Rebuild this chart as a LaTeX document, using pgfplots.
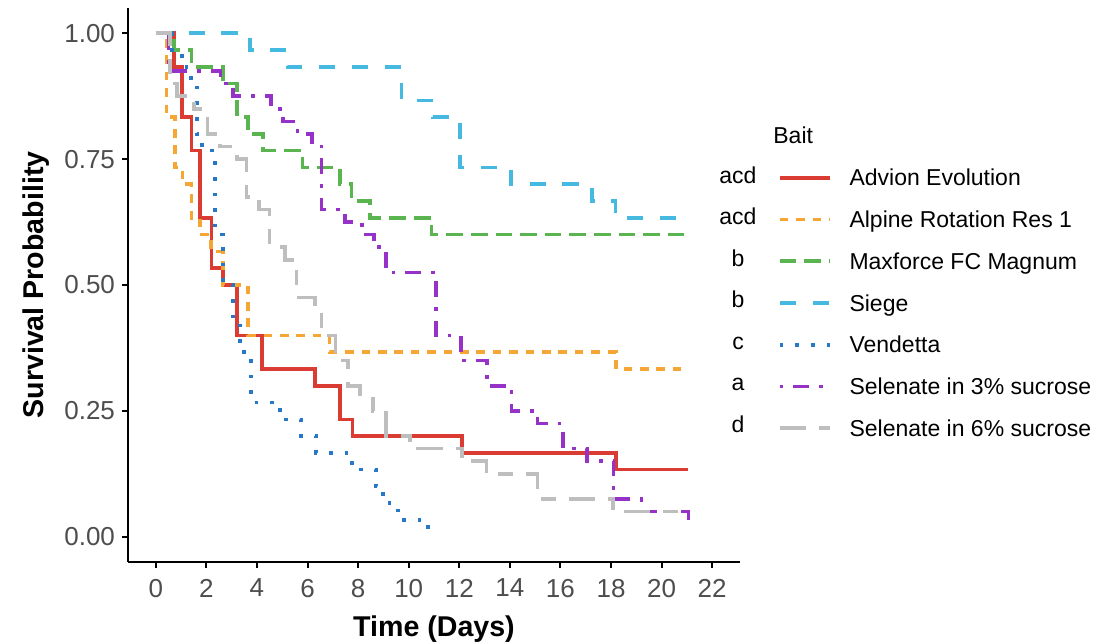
\documentclass[border=0pt]{standalone}
\usepackage{pgfplots}
\pgfplotsset{compat=1.18}
\usepackage{fontspec}
\setmainfont{Liberation Sans}
\definecolor{cRed}{RGB}{218,60,52}
\definecolor{cOrange}{RGB}{245,166,52}
\definecolor{cGreen}{RGB}{90,180,80}
\definecolor{cCyan}{RGB}{70,185,225}
\definecolor{cBlue}{RGB}{40,120,200}
\definecolor{cPurple}{RGB}{150,50,200}
\definecolor{cGray}{RGB}{190,190,190}
\definecolor{tickgray}{RGB}{77,77,77}
\begin{document}
\begin{tikzpicture}
\useasboundingbox (-64pt,-40.5pt) rectangle (483pt,281pt);
\begin{axis}[
  at={(0pt,0pt)}, anchor=south west,
  scale only axis, width=306pt, height=277pt,
  xmin=-1.1, xmax=23.1, ymin=-0.05, ymax=1.05,
  axis x line*=bottom, axis y line*=left,
  axis line style={black, line width=1pt, -},
  xtick={0,2,...,22},
  ytick={0,0.25,0.5,0.75,1},
  yticklabels={0.00,0.25,0.50,0.75,1.00},
  tick align=outside, major tick length=3pt,
  tick style={black, line width=1pt},
  /pgf/number format/assume math mode=true,
  tick label style={font=\fontsize{13}{15}\selectfont, text=tickgray},
  xticklabel style={yshift=-2pt},
  xlabel={Time (Days)}, ylabel={Survival Probability},
  label style={font=\fontsize{14.3}{17}\selectfont\bfseries},
  xlabel style={at={(axis description cs:0.5,-0.1336)}, anchor=base},
  ylabel style={at={(axis description cs:-0.1373,0.5)}, anchor=base, rotate=0},
  every axis plot/.append style={line width=1.8pt, line cap=butt, line join=miter, const plot},
  legend style={at={(axis description cs:1.062,0.7136)}, anchor=north west,
    draw=none, fill=none, font=\fontsize{11.5}{13.8}\selectfont,
    row sep=9.7pt, column sep=9pt, inner sep=0pt, outer sep=0pt,
    nodes={inner sep=0pt, outer sep=0pt}},
  legend cell align=left,
  legend image code/.code={\draw[#1] (0pt,0pt) -- (25pt,0pt);},
]
% Advion Evolution
\addplot[cRed] coordinates {(0,1) (0.73,0.9333) (1.03,0.8333) (1.41,0.7667) (1.74,0.6333) (2.2,0.5333) (2.65,0.5) (3.2,0.4) (4.2,0.3333) (6.3,0.3) (7.28,0.2333) (7.77,0.2) (12.1,0.1667) (18.2,0.1333) (21.05,0.1333)};
\addlegendentry{\strut Advion Evolution}
% Alpine Rotation Res 1
\addplot[cOrange, dash pattern=on 4.3pt off 3.9pt] coordinates {(0,1) (0.42,0.8333) (0.75,0.7333) (1.05,0.7) (1.41,0.6333) (1.74,0.6) (2.18,0.5667) (2.65,0.5) (3.64,0.4) (6.86,0.3667) (18.2,0.3333) (21.05,0.3333)};
\addlegendentry{\strut Alpine Rotation Res 1}
% Maxforce FC Magnum
\addplot[cGreen, dash pattern=on 8.3pt off 4pt] coordinates {(0,1) (0.73,0.9667) (1.41,0.9333) (2.66,0.9) (3.2,0.8333) (3.64,0.8) (4.25,0.7667) (5.8,0.7333) (7.28,0.7) (7.74,0.6667) (8.47,0.6333) (10.9,0.6) (21.05,0.6)};
\addlegendentry{\strut Maxforce FC Magnum}
% Siege
\addplot[cCyan, dash pattern=on 8.1pt off 8.3pt] coordinates {(0,1) (3.72,0.9667) (5.2,0.9333) (9.72,0.8667) (10.97,0.8333) (12.03,0.7333) (14.05,0.7) (17.24,0.6667) (18.17,0.6333) (21.05,0.6333)};
\addlegendentry{\strut Siege}
% Vendetta
\addplot[cBlue, dash pattern=on 1.8pt off 6pt] coordinates {(0,1) (0.63,0.9667) (1.03,0.9333) (1.38,0.9) (1.62,0.8) (1.82,0.7667) (2.33,0.6) (2.65,0.5) (3.05,0.4333) (3.32,0.3667) (3.76,0.2667) (4.9,0.2333) (5.75,0.2) (6.34,0.1667) (7.76,0.1333) (8.7,0.1) (8.98,0.0667) (9.58,0.0333) (10.76,0)};
\addlegendentry{\strut Vendetta}
% Selenate in 3% sucrose
\addplot[cPurple, dash pattern=on 1.8pt off 5pt on 8pt off 5pt] coordinates {(0,1) (0.5,0.925) (2.55,0.9) (3.05,0.875) (4.56,0.85) (5.04,0.825) (5.6,0.8) (6.17,0.775) (6.55,0.65) (7.48,0.625) (8.15,0.6) (8.63,0.575) (9.1,0.525) (11.08,0.4) (12.06,0.35) (13.1,0.3) (14.07,0.25) (15.1,0.225) (16.1,0.175) (17.05,0.15) (18.1,0.075) (19.2,0.05) (21.07,0.025)};
\addlegendentry{\strut Selenate in 3\% sucrose}
% Selenate in 6% sucrose
\addplot[cGray, dash pattern=on 13.3pt off 6.5pt on 7.5pt off 6.5pt] coordinates {(0,1) (0.55,0.9) (0.83,0.875) (1.5,0.85) (2.05,0.8) (2.53,0.775) (3.2,0.75) (3.58,0.675) (4.09,0.65) (4.5,0.575) (5.1,0.55) (5.57,0.475) (6.3,0.45) (6.55,0.4) (7.1,0.35) (7.6,0.3) (8.07,0.275) (8.58,0.25) (9.1,0.2) (10.05,0.175) (12.1,0.15) (13.07,0.125) (15.1,0.075) (18.07,0.05) (21.05,0.05)};
\addlegendentry{\strut Selenate in 6\% sucrose}
\end{axis}
\begin{scope}[every node/.style={font=\fontsize{11.5}{13.8}\selectfont, inner sep=0pt, text=black}]
\node[anchor=base west] at (322.5pt,209.15pt) {Bait};
\node[anchor=base] at (305pt,189.25pt) {acd};
\node[anchor=base] at (305pt,168.5pt) {acd};
\node[anchor=base] at (305pt,147.75pt) {b};
\node[anchor=base] at (305pt,127pt) {b};
\node[anchor=base] at (305pt,106.25pt) {c};
\node[anchor=base] at (305pt,85.5pt) {a};
\node[anchor=base] at (305pt,64.75pt) {d};
\end{scope}
\end{tikzpicture}
\end{document}
